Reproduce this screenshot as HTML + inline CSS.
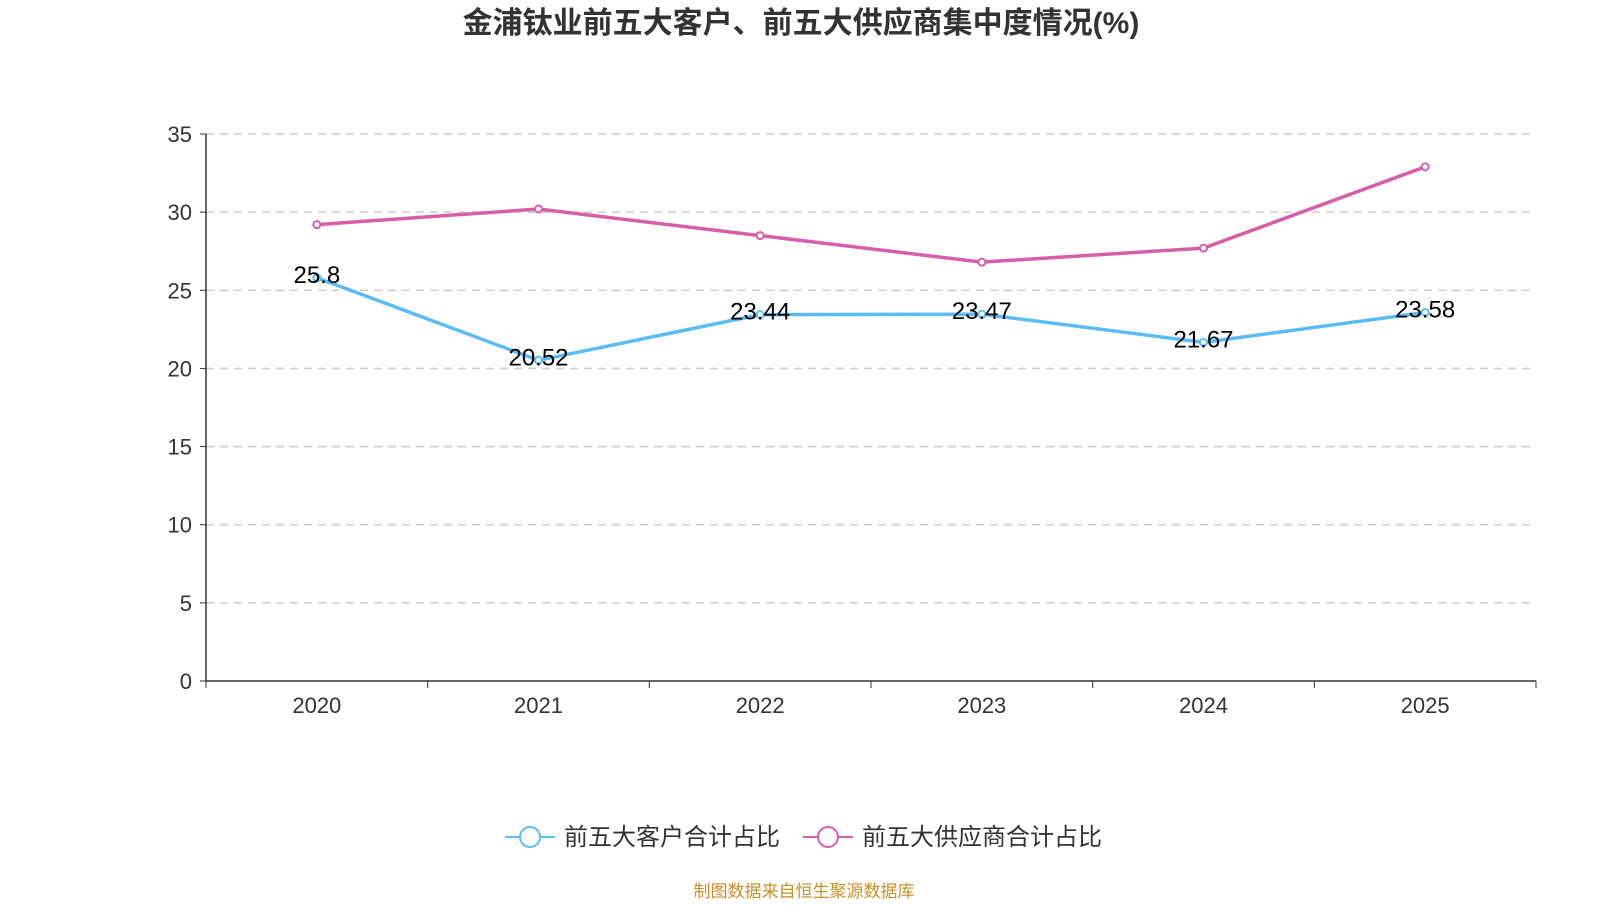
<!DOCTYPE html>
<html><head><meta charset="utf-8"><style>
body{margin:0;background:#fff;width:1600px;height:900px;overflow:hidden;font-family:"Liberation Sans","Noto Sans CJK SC",sans-serif}
</style></head><body>
<svg id="c" width="1600" height="900" xmlns="http://www.w3.org/2000/svg">
<text x="801" y="33" text-anchor="middle" font-size="30" font-weight="bold" fill="#333">金浦钛业前五大客户、前五大供应商集中度情况(%)</text>
<g id="grid"></g><g id="axes"></g><g id="series"></g>
<g>
<g>
<line x1="505" y1="837" x2="555" y2="837" stroke="#5bbcf3" stroke-width="2"/><circle cx="530" cy="837" r="10" fill="#fff" stroke="#5bbcf3" stroke-width="2"/>
<text x="564" y="845" font-size="24" fill="#333">前五大客户合计占比</text></g>
<g>
<line x1="803" y1="837" x2="853" y2="837" stroke="#d65fa9" stroke-width="2"/><circle cx="828" cy="837" r="10" fill="#fff" stroke="#d65fa9" stroke-width="2"/>
<text x="862" y="845" font-size="24" fill="#333">前五大供应商合计占比</text></g>
</g>
<text x="804" y="897" text-anchor="middle" font-size="17" fill="#c8902a">制图数据来自恒生聚源数据库</text>
</svg>
<script>
const categories=["2020","2021","2022","2023","2024","2025"];
const customers=[25.8,20.52,23.44,23.47,21.67,23.58];
const suppliers=[29.2,30.2,28.5,26.8,27.7,32.9];
const yTicks=[0,5,10,15,20,25,30,35];
const NS="http://www.w3.org/2000/svg";
const L=206,R=1536,T=134,B=681,yMax=35;
const bw=(R-L)/categories.length;
const x=i=>L+bw*(i+0.5);
const y=v=>B-(v/yMax)*(B-T);
function mk(t,a,p){const e=document.createElementNS(NS,t);for(const k in a)e.setAttribute(k,a[k]);p.appendChild(e);return e;}
const grid=document.getElementById('grid'),axes=document.getElementById('axes'),ser=document.getElementById('series');
yTicks.forEach(v=>{
 if(v>0){const g=mk('line',{x1:L,x2:R,y1:y(v),y2:y(v),stroke:'#ccc','stroke-width':1.5,'stroke-dasharray':'8,6'},grid);
 
 }
 mk('line',{x1:L-6,x2:L,y1:y(v),y2:y(v),stroke:'#333'},axes);
 const t=mk('text',{x:L-14,y:y(v)+8,'text-anchor':'end','font-size':22,fill:'#333'},axes);t.textContent=v;
 
 
});
mk('line',{x1:L,x2:L,y1:T,y2:B,stroke:'#333','stroke-width':1.5},axes);
mk('line',{x1:L,x2:R,y1:B,y2:B,stroke:'#333','stroke-width':1.5},axes);
for(let i=0;i<=categories.length;i++)mk('line',{x1:L+bw*i,x2:L+bw*i,y1:B,y2:B+7,stroke:'#333'},axes);
categories.forEach((c,i)=>{const t=mk('text',{x:x(i),y:B+32,'text-anchor':'middle','font-size':22,fill:'#333'},axes);t.textContent=c;
 
 });
function line(data,color,name,labels){
 const p=mk('polyline',{points:data.map((v,i)=>x(i)+','+y(v)).join(' '),fill:'none',stroke:color,'stroke-width':3.5},ser);
 
 
 data.forEach((v,i)=>{const c=mk('circle',{cx:x(i),cy:y(v),r:3.5,fill:'#fff',stroke:color,'stroke-width':2},ser);
  
  
  if(labels){const t=mk('text',{x:x(i),y:y(v)+5,'text-anchor':'middle','font-size':24,fill:'#000'},ser);t.textContent=v;
   
   }
 });
}
line(suppliers,'#d65fa9','suppliers',false);
line(customers,'#5bbcf3','customers',true);
</script>
</body></html>
